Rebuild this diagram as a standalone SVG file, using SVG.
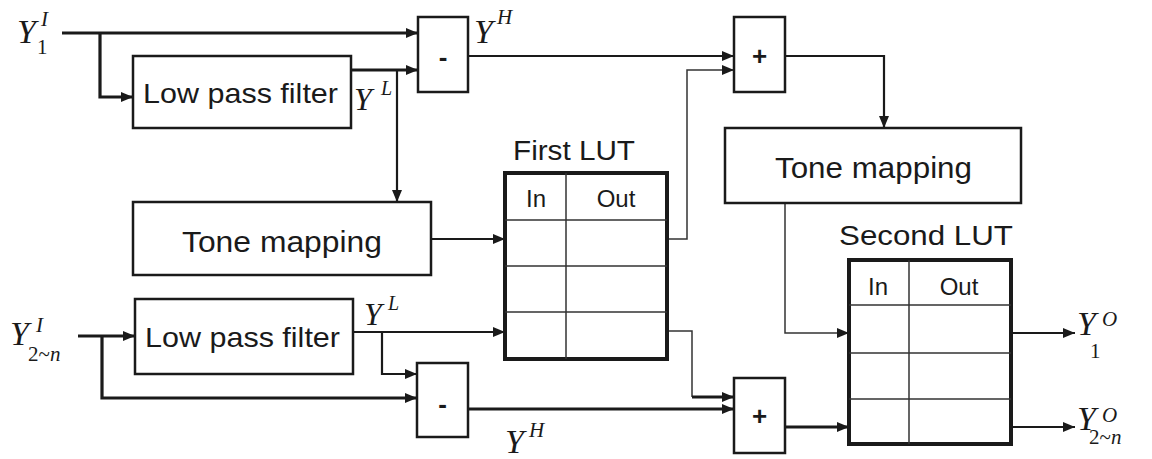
<svg xmlns="http://www.w3.org/2000/svg" width="1152" height="459" viewBox="0 0 1152 459">
<style>
.box{fill:#fff;stroke:#1a1a1a;stroke-width:2.5}
.lut{fill:#fff;stroke:#1a1a1a;stroke-width:4}
.grid{stroke:#333;stroke-width:1.5;fill:none}
.lbl{font-family:"Liberation Sans",Arial,sans-serif;fill:#1a1a1a}
.m{font-family:"Liberation Serif","Times New Roman",serif;font-style:italic;fill:#1a1a1a}
.r{font-family:"Liberation Serif","Times New Roman",serif;font-style:normal;fill:#1a1a1a}
.c{fill:none;stroke:#1a1a1a}
.tk{stroke-width:3.2}
.md{stroke-width:2.2}
.tn{stroke-width:1.5;stroke:#333}
</style>
<defs>
<marker id="ah" markerUnits="userSpaceOnUse" viewBox="0 0 12 10" refX="12" refY="5" markerWidth="12" markerHeight="10" orient="auto">
<path d="M0,0 L12,5 L0,10 z" fill="#1a1a1a"/>
</marker>
</defs>
<g id="connectors">
<path class="c tk" d="M62,33 H418" marker-end="url(#ah)"/>
<path class="c tk" d="M100,33 V97 H133" marker-end="url(#ah)"/>
<path class="c tk" d="M351,70 H418" marker-end="url(#ah)"/>
<path class="c md" d="M397,70 V202" marker-end="url(#ah)"/>
<path class="c md" d="M468,56 H734" marker-end="url(#ah)"/>
<path class="c tn" d="M667,239 H687 V70 H734" marker-end="url(#ah)"/>
<path class="c md" d="M785,56 H884 V128" marker-end="url(#ah)"/>
<path class="c md" d="M431,239 H505" marker-end="url(#ah)"/>
<path class="c tn" d="M785,203 V333 H849" marker-end="url(#ah)"/>
<path class="c tk" d="M78,336 H135" marker-end="url(#ah)"/>
<path class="c tk" d="M102,336 V398 H417" marker-end="url(#ah)"/>
<path class="c md" d="M353,332 H505" marker-end="url(#ah)"/>
<path class="c md" d="M382,332 V374 H417" marker-end="url(#ah)"/>
<path class="c tk" d="M468,409 H734" marker-end="url(#ah)"/>
<path class="c tn" d="M667,331 H692 V397"/>
<path class="c tk" d="M692,397 H734" marker-end="url(#ah)"/>
<path class="c tk" d="M785,427 H849" marker-end="url(#ah)"/>
<path class="c md" d="M1011,333 H1075" marker-end="url(#ah)"/>
<path class="c md" d="M1011,427 H1075" marker-end="url(#ah)"/>
</g>
<g id="in1">
<text class="m" x="17" y="43" font-size="34">Y</text>
<text class="m" x="41" y="26" font-size="21">I</text>
<text class="r" x="37" y="54" font-size="21">1</text>
</g>
<g id="in2">
<text class="m" x="10" y="345" font-size="34">Y</text>
<text class="m" x="36" y="332" font-size="21">I</text>
<text class="r" x="28" y="361" font-size="21">2~<tspan class="m">n</tspan></text>
</g>
<g id="lpf1">
<rect class="box" x="133" y="56" width="218" height="72"/>
<text class="lbl" x="143" y="103" font-size="28" textLength="195" lengthAdjust="spacingAndGlyphs">Low pass filter</text>
</g>
<g id="yl1">
<text class="m" x="354" y="110" font-size="32">Y</text>
<text class="m" x="381" y="95" font-size="20">L</text>
</g>
<g id="minus1">
<rect class="box" x="418" y="17" width="50" height="75"/>
<text class="lbl" x="443" y="66" font-size="26" text-anchor="middle" font-weight="bold">-</text>
</g>
<g id="yh1">
<text class="m" x="474" y="43" font-size="34">Y</text>
<text class="m" x="497" y="24" font-size="21">H</text>
</g>
<g id="plus1">
<rect class="box" x="734" y="17" width="51" height="75"/>
<text class="lbl" x="759.500" y="65" font-size="26" text-anchor="middle" font-weight="bold">+</text>
</g>
<g id="tone1">
<rect class="box" x="133" y="202" width="298" height="73"/>
<text class="lbl" x="182" y="252" font-size="29" textLength="200" lengthAdjust="spacingAndGlyphs">Tone mapping</text>
</g>
<g id="tone2">
<rect class="box" x="725" y="128" width="296" height="75"/>
<text class="lbl" x="775" y="178" font-size="29" textLength="197" lengthAdjust="spacingAndGlyphs">Tone mapping</text>
</g>
<g id="lut1">
<text class="lbl" x="513" y="160" font-size="27" textLength="122" lengthAdjust="spacingAndGlyphs">First LUT</text>
<rect class="lut" x="505" y="173" width="162" height="186"/>
<path class="grid" d="M566,173 V359 M505,220 H667 M505,266 H667 M505,312 H667"/>
<text class="lbl" x="536" y="207" font-size="24" text-anchor="middle">In</text>
<text class="lbl" x="616" y="207" font-size="24" text-anchor="middle">Out</text>
</g>
<g id="lpf2">
<rect class="box" x="135" y="299" width="218" height="75"/>
<text class="lbl" x="145" y="347" font-size="28" textLength="195" lengthAdjust="spacingAndGlyphs">Low pass filter</text>
</g>
<g id="yl2">
<text class="m" x="364" y="325" font-size="32">Y</text>
<text class="m" x="388" y="310" font-size="20">L</text>
</g>
<g id="minus2">
<rect class="box" x="417" y="363" width="51" height="74"/>
<text class="lbl" x="442.500" y="413" font-size="26" text-anchor="middle" font-weight="bold">-</text>
</g>
<g id="yh2">
<text class="m" x="505" y="453" font-size="34">Y</text>
<text class="m" x="529" y="437" font-size="21">H</text>
</g>
<g id="plus2">
<rect class="box" x="734" y="378" width="51" height="75"/>
<text class="lbl" x="759.500" y="425" font-size="26" text-anchor="middle" font-weight="bold">+</text>
</g>
<g id="lut2">
<text class="lbl" x="839" y="245" font-size="27" textLength="174" lengthAdjust="spacingAndGlyphs">Second LUT</text>
<rect class="lut" x="849" y="260" width="162" height="184"/>
<path class="grid" d="M909,260 V444 M849,305 H1011 M849,353 H1011 M849,399 H1011"/>
<text class="lbl" x="878" y="295" font-size="24" text-anchor="middle">In</text>
<text class="lbl" x="959" y="295" font-size="24" text-anchor="middle">Out</text>
</g>
<g id="out1">
<text class="m" x="1077" y="335" font-size="34">Y</text>
<text class="m" x="1102" y="326" font-size="21">O</text>
<text class="r" x="1090" y="358" font-size="21">1</text>
</g>
<g id="out2">
<text class="m" x="1077" y="430" font-size="34">Y</text>
<text class="m" x="1102" y="422" font-size="21">O</text>
<text class="r" x="1089" y="444" font-size="21">2~<tspan class="m">n</tspan></text>
</g>
</svg>
